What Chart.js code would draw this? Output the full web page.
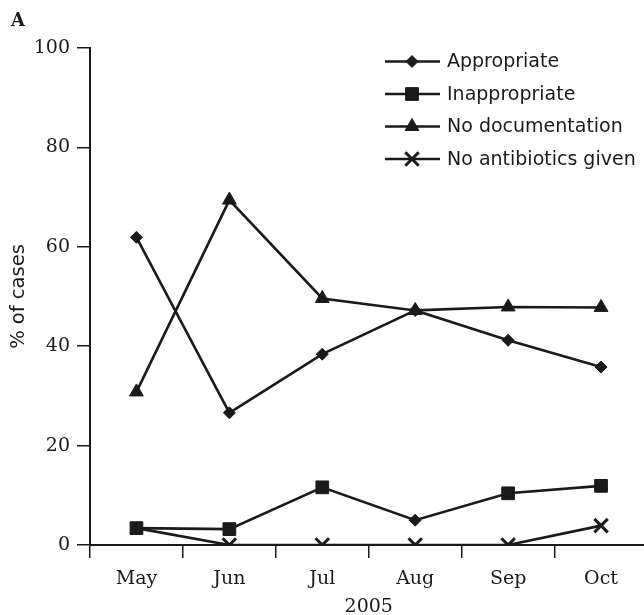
<!DOCTYPE html>
<html>
<head>
<meta charset="utf-8">
<script src="https://cdn.jsdelivr.net/npm/chart.js@4.4.1/dist/chart.umd.min.js"></script>
<style>
  html, body { margin: 0; padding: 0; background: #ffffff; overflow: hidden; }
  #wrap { width: 644px; height: 615px; overflow: hidden; }
  canvas { display: block; }
</style>
</head>
<body>
<div id="wrap"><canvas id="c" width="660" height="620"></canvas></div>
<script>
const categories = ['May', 'Jun', 'Jul', 'Aug', 'Sep', 'Oct'];
const appropriate = [61.9, 26.6, 38.4, 47.2, 41.2, 35.8];
const inappropriate = [3.4, 3.2, 11.6, 5.0, 10.4, 11.9];
const noDocumentation = [30.8, 69.4, 49.6, 47.2, 47.9, 47.8];
const noAntibiotics = [3.4, 0, 0, 0, 0, 3.9];
const yTicks = [0, 20, 40, 60, 80, 100];
const seriesNames = ['Appropriate', 'Inappropriate', 'No documentation', 'No antibiotics given'];
const xTitle = '2005';
const yTitle = '% of cases';
const panelLabel = 'A';

const INK = '#1a1a1a';
const serif = "'DejaVu Serif', 'Liberation Serif', serif";
const sans = "'DejaVu Sans', 'Liberation Sans', sans-serif";

const markers = [
  { pointStyle: 'rectRot', radius: 6, borderWidth: 1 },
  { pointStyle: 'rect', radius: 9, borderWidth: 1 },
  { pointStyle: 'triangle', radius: 8, borderWidth: 1 },
  { pointStyle: 'crossRot', radius: 9.5, borderWidth: 3 }
];

function ds(label, data, m, order, overrides) {
  return Object.assign({
    label, data, order,
    borderColor: INK, backgroundColor: INK,
    borderWidth: 2.6, tension: 0, fill: false,
    pointStyle: m.pointStyle, pointRadius: m.radius,
    pointBorderWidth: m.borderWidth,
    pointBackgroundColor: INK, pointBorderColor: INK,
    pointHoverRadius: m.radius
  }, overrides || {});
}

// Inappropriate series: the Aug point is drawn with a diamond in the original
const inapStyles = categories.map(c => c === 'Aug' ? 'rectRot' : 'rect');
const inapRadii = categories.map(c => c === 'Aug' ? 6 : 9);
// No-antibiotics May point sits under the square marker (no visible cross there)
const noAbRadii = categories.map(c => c === 'May' ? 0 : 9.5);

const legendPlugin = {
  id: 'customLegend',
  afterDraw(chart) {
    const ctx = chart.ctx;
    ctx.save();
    ctx.fillStyle = INK;
    ctx.font = "bold 18px " + serif;
    ctx.textAlign = 'left';
    ctx.textBaseline = 'middle';
    ctx.fillText(panelLabel, 11, 21);
    const rowsY = [61.5, 94, 126.5, 159];
    seriesNames.forEach((name, i) => {
      const y = rowsY[i];
      ctx.strokeStyle = INK;
      ctx.lineWidth = 2.6;
      ctx.beginPath();
      ctx.moveTo(385, y);
      ctx.lineTo(440, y);
      ctx.stroke();
      ctx.fillStyle = INK;
      ctx.strokeStyle = INK;
      ctx.lineWidth = markers[i].borderWidth;
      Chart.helpers.drawPoint(ctx, {
        pointStyle: markers[i].pointStyle,
        radius: markers[i].radius,
        rotation: 0,
        borderWidth: markers[i].borderWidth
      }, 412, y);
      ctx.fillStyle = INK;
      ctx.font = "19px " + sans;
      ctx.textAlign = 'left';
      ctx.textBaseline = 'middle';
      ctx.fillText(name, 447, y + 1);
    });
    ctx.restore();
  }
};

new Chart(document.getElementById('c'), {
  type: 'line',
  data: {
    labels: categories,
    datasets: [
      ds(seriesNames[0], appropriate, markers[0], 2),
      ds(seriesNames[1], inappropriate, markers[1], 1, { pointStyle: inapStyles, pointRadius: inapRadii, pointHoverRadius: inapRadii }),
      ds(seriesNames[2], noDocumentation, markers[2], 0),
      ds(seriesNames[3], noAntibiotics, markers[3], 3, { pointRadius: noAbRadii, pointHoverRadius: noAbRadii })
    ]
  },
  options: {
    responsive: false,
    animation: false,
    events: [],
    layout: { padding: { top: 48, right: 3, left: 0, bottom: 0 } },
    plugins: {
      legend: { display: false },
      tooltip: { enabled: false },
      title: { display: false }
    },
    scales: {
      x: {
        type: 'category',
        offset: true,
        grid: { display: true, offset: true, drawOnChartArea: false, drawTicks: true, tickLength: 13, color: INK, lineWidth: 1.5 },
        border: { display: true, color: INK, width: 2 },
        ticks: { color: INK, font: { family: serif, size: 19 }, padding: 10, maxRotation: 0, autoSkip: false },
        title: { display: true, text: xTitle, color: INK, font: { family: serif, size: 19 }, padding: { top: 2, bottom: 2 } },
        afterFit(scale) { scale.height = 75; }
      },
      y: {
        type: 'linear',
        min: 0, max: 100,
        afterBuildTicks(scale) { scale.ticks = yTicks.map(v => ({ value: v })); },
        grid: { display: true, drawOnChartArea: false, drawTicks: true, tickLength: 13, color: INK, lineWidth: 1.5 },
        border: { display: true, color: INK, width: 2 },
        ticks: { color: INK, font: { family: serif, size: 19 }, padding: 7 },
        title: { display: true, text: yTitle, color: INK, font: { family: sans, size: 19.5 }, padding: { top: 7, bottom: 0 } },
        afterFit(scale) { scale.width = 90; }
      }
    }
  },
  plugins: [legendPlugin]
});
</script>
</body>
</html>
